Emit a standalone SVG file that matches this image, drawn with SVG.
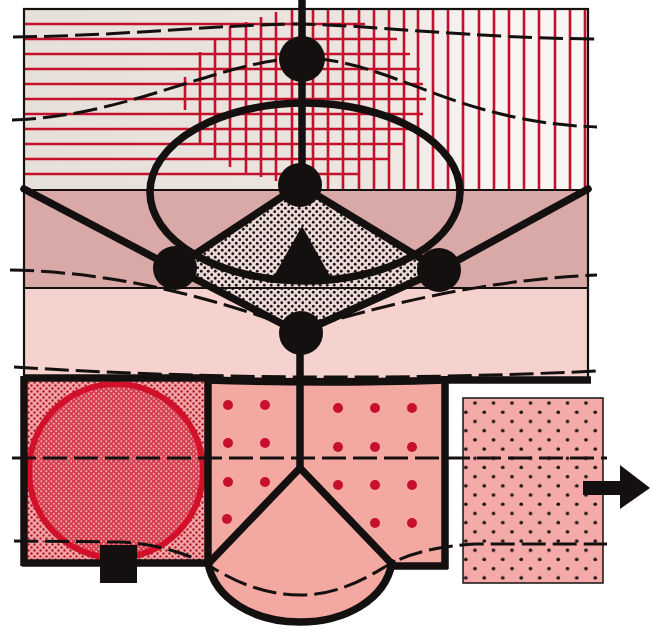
<svg xmlns="http://www.w3.org/2000/svg" width="651" height="630" viewBox="0 0 651 630">
<defs>
  <linearGradient id="topbg" x1="0" x2="1" y1="0" y2="0">
    <stop offset="0" stop-color="#e6e0da"/>
    <stop offset="0.6" stop-color="#ebe4df"/>
    <stop offset="0.8" stop-color="#f6f3f1"/>
    <stop offset="1" stop-color="#f8f6f4"/>
  </linearGradient>
  <pattern id="diamondDots" width="7" height="7" patternUnits="userSpaceOnUse">
    <circle cx="1.75" cy="1.75" r="1.4" fill="#1e1616"/>
    <circle cx="5.25" cy="5.25" r="1.4" fill="#1e1616"/>
  </pattern>
  <pattern id="leftDots" width="6" height="6" patternUnits="userSpaceOnUse">
    <rect width="6" height="6" fill="#f2a4a6"/>
    <circle cx="1.5" cy="1.5" r="1.2" fill="#b01c2c"/>
    <circle cx="4.5" cy="4.5" r="1.2" fill="#b01c2c"/>
  </pattern>
  <pattern id="hatch" width="5" height="5" patternUnits="userSpaceOnUse">
    <rect width="5" height="5" fill="#d63f52"/>
    <circle cx="1.25" cy="1.25" r="0.95" fill="#f5b0b0"/>
    <circle cx="3.75" cy="3.75" r="0.95" fill="#f5b0b0"/>
  </pattern>
  <pattern id="rightDots" x="470.4" y="398.4" width="18.5" height="18.4" patternUnits="userSpaceOnUse">
    <rect width="18.5" height="18.4" fill="#f4aaa8"/>
    <circle cx="4.6" cy="4.6" r="1.8" fill="#1a1212"/>
    <circle cx="13.85" cy="13.8" r="1.8" fill="#1a1212"/>
  </pattern>
  <clipPath id="topClip"><rect x="24" y="9" width="564" height="181"/></clipPath>
</defs>
<style>
  .red { stroke: #c4102a; stroke-width: 2.6; fill: none; }
  .thin { stroke: #141010; stroke-width: 2.2; fill: none; }
  .thick { stroke: #141010; stroke-width: 7.5; fill: none; stroke-linecap: round; stroke-linejoin: round; }
  .dash { stroke: #141010; stroke-width: 3; fill: none; stroke-dasharray: 24 7; }
  .node { fill: #141010; }
  .rdot { fill: #c8102e; }
</style>

<g id="bands">
  <rect x="24" y="9" width="564" height="181" fill="url(#topbg)"/>
  <rect x="24" y="190" width="564" height="98" fill="#d8a9a6"/>
  <rect x="24" y="288" width="564" height="92" fill="#f5d2ce"/>
</g>

<g id="grid" clip-path="url(#topClip)">
  <g class="red">
    <line x1="24" y1="24" x2="365" y2="24"/>
    <line x1="24" y1="39" x2="397" y2="39"/>
    <line x1="24" y1="54" x2="410" y2="54"/>
    <line x1="24" y1="69" x2="420" y2="69"/>
    <line x1="24" y1="84" x2="423" y2="84"/>
    <line x1="24" y1="99" x2="426" y2="99"/>
    <line x1="24" y1="114" x2="423" y2="114"/>
    <line x1="24" y1="129" x2="420" y2="129"/>
    <line x1="24" y1="144" x2="405" y2="144"/>
    <line x1="24" y1="159" x2="388" y2="159"/>
    <line x1="24" y1="174" x2="360" y2="174"/>
    <line x1="185" y1="77" x2="185" y2="110"/>
    <line x1="200" y1="52" x2="200" y2="145"/>
    <line x1="215" y1="38" x2="215" y2="158"/>
    <line x1="230" y1="26" x2="230" y2="167"/>
    <line x1="246" y1="22" x2="246" y2="173"/>
    <line x1="261" y1="17" x2="261" y2="177"/>
    <line x1="276" y1="12" x2="276" y2="181"/>
    <line x1="292" y1="9" x2="292" y2="190"/>
    <line x1="313" y1="9" x2="313" y2="190"/>
    <line x1="328" y1="9" x2="328" y2="190"/>
    <line x1="343" y1="9" x2="343" y2="190"/>
    <line x1="359" y1="9" x2="359" y2="190"/>
    <line x1="374" y1="9" x2="374" y2="190"/>
    <line x1="389" y1="9" x2="389" y2="190"/>
    <line x1="404" y1="9" x2="404" y2="190"/>
    <line x1="418" y1="9" x2="418" y2="190"/>
    <line x1="433" y1="9" x2="433" y2="190"/>
    <line x1="448" y1="9" x2="448" y2="190"/>
    <line x1="463" y1="9" x2="463" y2="190"/>
    <line x1="479" y1="9" x2="479" y2="190"/>
    <line x1="494" y1="9" x2="494" y2="190"/>
    <line x1="509" y1="9" x2="509" y2="190"/>
    <line x1="524" y1="9" x2="524" y2="190"/>
    <line x1="539" y1="9" x2="539" y2="190"/>
    <line x1="555" y1="9" x2="555" y2="190"/>
    <line x1="570" y1="9" x2="570" y2="190"/>
    <line x1="585" y1="9" x2="585" y2="190"/>
  </g>
</g>

<g id="diamond">
  <polygon points="300,185 440,270 300,333 174,268" fill="#ecdad7"/>
  <polygon points="300,185 440,270 300,333 174,268" fill="url(#diamondDots)"/>
</g>

<g id="frame">
  <rect x="24" y="9" width="564" height="370" class="thin"/>
  <line x1="24" y1="190" x2="588" y2="190" class="thin"/>
  <line x1="24" y1="288" x2="588" y2="288" class="thin"/>
</g>

<g id="left-box">
  <rect x="24" y="378" width="184" height="186" fill="url(#leftDots)"/>
  <circle cx="116" cy="471" r="87" fill="url(#hatch)" stroke="#d2102a" stroke-width="6"/>
  <rect x="100" y="545" width="37" height="38" fill="#141010"/>
</g>

<g id="middle-box">
  <rect x="208" y="380" width="237" height="186" fill="#f3a8a2"/>
  <path d="M208,563 C215,600 255,622 300,622 C345,622 385,600 392,563 Z" fill="#f3a8a2"/>
  <g class="rdot">
    <circle cx="228" cy="405" r="5"/><circle cx="265" cy="405" r="5"/>
    <circle cx="228" cy="443" r="5"/><circle cx="265" cy="443" r="5"/>
    <circle cx="228" cy="482" r="5"/><circle cx="265" cy="482" r="5"/>
    <circle cx="227" cy="519" r="5"/>
    <circle cx="338" cy="408" r="5"/><circle cx="375" cy="408" r="5"/><circle cx="412" cy="408" r="5"/>
    <circle cx="338" cy="447" r="5"/><circle cx="375" cy="447" r="5"/><circle cx="412" cy="447" r="5"/>
    <circle cx="338" cy="485" r="5"/><circle cx="375" cy="485" r="5"/><circle cx="412" cy="485" r="5"/>
    <circle cx="375" cy="523" r="5"/><circle cx="412" cy="523" r="5"/>
  </g>
</g>

<g id="right-box">
  <rect x="463" y="398" width="140" height="185" fill="url(#rightDots)" stroke="#141010" stroke-width="1.5"/>
</g>

<g id="dashed-lines">
  <path class="dash" d="M13,37 C120,36 230,24 300,24 C370,25 470,38 597,39"/>
  <path class="dash" d="M12,120 C130,116 215,62 300,58 C390,58 450,122 597,127"/>
  <path class="dash" d="M10,270 C120,272 220,300 300,330 C380,306 480,280 597,275"/>
  <path class="dash" d="M14,367 Q300,385 597,371"/>
  <path class="dash" d="M12,458 L607,458"/>
  <path class="dash" d="M14,541 L120,542 C160,544 190,555 208,565 C240,585 270,596 305,595 C345,593 370,575 392,563 C410,553 440,546 475,544 L607,544"/>
</g>

<g id="connectors">
  <ellipse cx="305" cy="192" rx="155" ry="89" class="thick"/>
  <line x1="302" y1="0" x2="302" y2="185" class="thick" stroke-width="8" style="stroke-linecap:butt"/>
  <line x1="24" y1="189" x2="174" y2="268" class="thick"/>
  <line x1="440" y1="270" x2="588" y2="189" class="thick"/>
  <polyline points="174,268 300,185 440,270 300,333 174,268" class="thick"/>
  <polyline points="300,333 300,468 208,564" class="thick"/>
  <line x1="300" y1="468" x2="391" y2="563" class="thick"/>
  <path d="M208,563 C215,600 255,622 300,622 C345,622 385,600 392,563" class="thick"/>
  <line x1="24" y1="378" x2="208" y2="378" class="thick" style="stroke-linecap:butt"/>
  <path d="M208,380 Q320,384 445,380" class="thick" stroke-width="5"/>
  <line x1="445" y1="380" x2="591" y2="380" class="thick" stroke-width="8" style="stroke-linecap:butt"/>
  <line x1="24" y1="376" x2="24" y2="566" class="thick" stroke-width="5" style="stroke-linecap:butt"/>
  <line x1="22" y1="563" x2="208" y2="563" class="thick" stroke-width="6" style="stroke-linecap:butt"/>
  <line x1="208" y1="376" x2="208" y2="566" class="thick" style="stroke-linecap:butt"/>
  <line x1="445" y1="376" x2="445" y2="569" class="thick" style="stroke-linecap:butt"/>
  <line x1="390" y1="566" x2="448" y2="566" class="thick" stroke-width="6" style="stroke-linecap:butt"/>
  <polygon points="302,226 270,283 334,283" fill="#141010"/>
  <g id="arrow">
    <rect x="583" y="481" width="40" height="14" fill="#141010"/>
    <polygon points="620,465 650,488 620,509" fill="#141010"/>
  </g>
</g>

<g id="n1"><circle cx="302" cy="59" r="23" class="node"/></g>
<g id="n2"><circle cx="300" cy="185" r="22" class="node"/></g>
<g id="n3"><circle cx="175" cy="268" r="22" class="node"/></g>
<g id="n4"><circle cx="439" cy="270" r="22" class="node"/></g>
<g id="n5"><circle cx="301" cy="333" r="22" class="node"/></g>
</svg>
